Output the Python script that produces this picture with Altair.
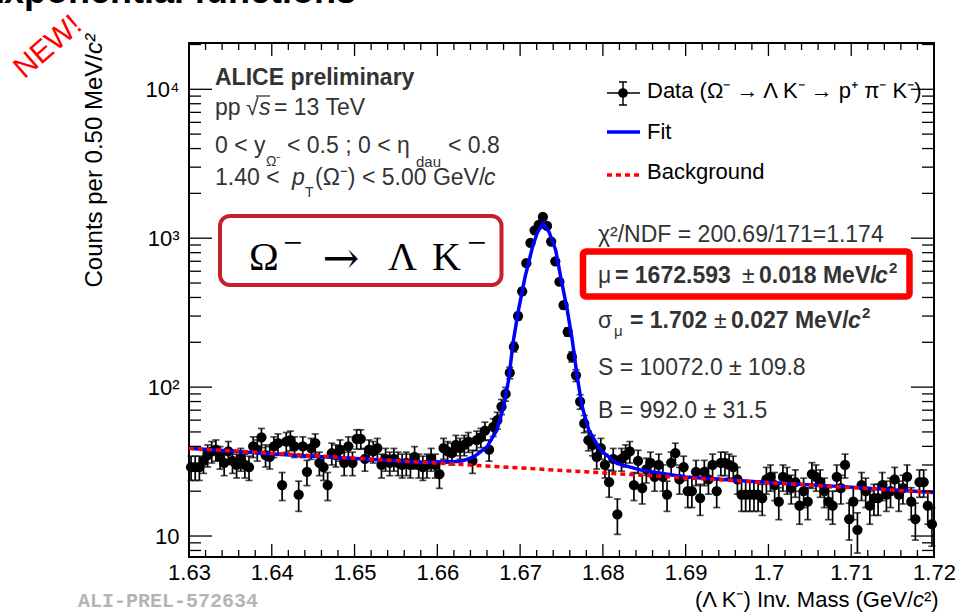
import altair as alt
import pandas as pd
import numpy as np

# ---------------- data ----------------
bin_low = 1.63
bin_width = 0.0005
counts = [
    29, 29, 29, 32, 35, 37, 38, 34, 31, 37,
    32, 30, 33, 30, 29, 40, 38, 46, 35, 34,
    40, 42, 22, 43, 44, 40, 19, 40, 27, 39,
    42, 31, 29, 22, 36, 35, 38, 31, 40, 31,
    45, 45, 33, 38, 37, 39, 30, 33, 31, 33,
    31, 30, 31, 30, 34, 30, 29, 30, 33, 30,
    26, 39, 37, 36, 41, 39, 41, 43, 32, 44,
    46, 51, 38, 54, 60, 74, 90, 125, 186, 300,
    440, 680, 930, 1130, 1230, 1390, 1210, 950, 700, 510,
    355, 235, 160, 120, 80, 57, 44, 41, 34, 39,
    30, 23, 33, 14, 33, 35, 37, 22, 32, 21,
    28, 31, 25, 30, 25, 19, 31, 36, 24, 29,
    20, 20, 27, 18, 27, 24, 30, 20, 31, 31,
    30, 29, 24, 19, 19, 19, 19, 19, 18, 24,
    25, 22, 17, 25, 24, 21, 23, 16, 20, 17,
    26, 25, 23, 20, 17, 16, 25, 21, 30, 13,
    17, 11, 22, 20, 16, 18, 18, 22, 19, 20,
    24, 19, 21, 25, 17, 13, 23, 23, 16, 12,
]

fit_mass = [1.630, 1.640, 1.650, 1.658, 1.6628, 1.6644, 1.6660, 1.6672, 1.6680,
            1.6686, 1.6692, 1.6698, 1.6706, 1.6715, 1.6721, 1.6728, 1.6735,
            1.6743, 1.6749, 1.6757, 1.6763, 1.6769, 1.6775, 1.6783, 1.6797,
            1.6817, 1.6846, 1.690, 1.700, 1.710, 1.720]
fit_counts = [38.8, 35.6, 33.1, 31.3, 31.6, 34.0, 39.7, 51.4, 73.8,
              111, 207, 329, 550, 874, 1102, 1260, 1102,
              830, 550, 329, 207, 117, 73.8, 51.4, 37.8,
              30.7, 27.7, 24.9, 22.9, 21.3, 19.6]

bkg_mass = [1.630, 1.720]
bkg_counts = [38.8, 19.6]

x_major = [1.63, 1.64, 1.65, 1.66, 1.67, 1.68, 1.69, 1.70, 1.71, 1.72]
x_minor = [round(1.63 + 0.002 * k, 3) for k in range(46) if k % 5 != 0]
y_major = [10, 100, 1000, 10000]
y_minor = [8, 9] + [m * d for d in (10, 100, 1000) for m in range(2, 10)] + [20000]

# ---------------- layout ----------------
L, T0 = 189, 43
W, H = 745, 514
FONT = "Liberation Sans"

mass = [bin_low + bin_width * (i + 0.5) for i in range(len(counts))]
cnt = np.array(counts, dtype=float)
err = np.sqrt(cnt)
df = pd.DataFrame({"mass": mass, "counts": cnt, "lo": cnt - err, "hi": cnt + err})
fit_df = pd.DataFrame({"mass": fit_mass, "counts": fit_counts})
bkg_df = pd.DataFrame({"mass": bkg_mass, "counts": bkg_counts})

xs = alt.Scale(domain=[1.63, 1.72], nice=False, zero=False)
ys = alt.Scale(type="log", domain=[7.23, 20460], nice=False)

x_axis = alt.Axis(values=x_major, format=".3~g", title=None, ticks=False, domain=False,
                  grid=False, labelFontSize=22, labelFont=FONT, labelColor="black",
                  labelPadding=5, labelFlush=False)
y_axis = alt.Axis(values=y_major, title=None, ticks=False, domain=False, grid=False,
                  labelExpr="datum.value == 10 ? '10' : datum.value == 100 ? '10²' : datum.value == 1000 ? '10³' : '10⁴'",
                  labelFontSize=22, labelFont=FONT, labelColor="black", labelPadding=10)

def X(f="mass"):
    return alt.X(f + ":Q", scale=xs, axis=x_axis)

def Y(f="counts"):
    return alt.Y(f + ":Q", scale=ys, axis=y_axis)

layers = []

# error bars, caps, points
layers.append(alt.Chart(df).mark_rule(color="black", strokeWidth=1.7).encode(x=X(), y=Y("lo"), y2="hi:Q"))
layers.append(alt.Chart(df).mark_tick(color="black", orient="horizontal", size=7, thickness=1.7).encode(x=X(), y=Y("lo")))
layers.append(alt.Chart(df).mark_tick(color="black", orient="horizontal", size=7, thickness=1.7).encode(x=X(), y=Y("hi")))
layers.append(alt.Chart(df).mark_circle(color="black", size=105, opacity=1).encode(x=X(), y=Y()))

# fit and background
layers.append(alt.Chart(fit_df).mark_line(color="#0000ff", strokeWidth=3.5).encode(x=X(), y=Y()))
layers.append(alt.Chart(bkg_df).mark_line(color="#ff0000", strokeWidth=3.5, strokeDash=[5, 4]).encode(x=X(), y=Y()))

# frame ticks (inward)
xmaj = pd.DataFrame({"mass": x_major})
xmin = pd.DataFrame({"mass": x_minor})
ymaj = pd.DataFrame({"counts": y_major})
ymin = pd.DataFrame({"counts": y_minor})
tk = dict(color="black", strokeWidth=1.3)
layers.append(alt.Chart(xmaj).mark_rule(**tk).encode(x=X(), y=alt.value(H), y2=alt.value(H - 13)))
layers.append(alt.Chart(xmaj).mark_rule(**tk).encode(x=X(), y=alt.value(0), y2=alt.value(13)))
layers.append(alt.Chart(xmin).mark_rule(**tk).encode(x=X(), y=alt.value(H), y2=alt.value(H - 7)))
layers.append(alt.Chart(xmin).mark_rule(**tk).encode(x=X(), y=alt.value(0), y2=alt.value(7)))
layers.append(alt.Chart(ymaj).mark_rule(**tk).encode(y=Y(), x=alt.value(0), x2=alt.value(23)))
layers.append(alt.Chart(ymaj).mark_rule(**tk).encode(y=Y(), x=alt.value(W), x2=alt.value(W - 23)))
layers.append(alt.Chart(ymin).mark_rule(**tk).encode(y=Y(), x=alt.value(0), x2=alt.value(12)))
layers.append(alt.Chart(ymin).mark_rule(**tk).encode(y=Y(), x=alt.value(W), x2=alt.value(W - 12)))

# ---------------- annotations ----------------
one = pd.DataFrame({"k": [0]})

def txt(s, x, y, size=23, weight="normal", style="normal", color="black",
        align="left", baseline="alphabetic", font=FONT, angle=0):
    kw = dict(text=s, fontSize=size, fontWeight=weight, fontStyle=style, color=color,
              align=align, baseline=baseline, font=font)
    if angle:
        kw["angle"] = angle
    return alt.Chart(one).mark_text(**kw).encode(x=alt.value(x - L), y=alt.value(y - T0))

def hline(x1, x2, y, color="black", width=1.5, dash=None):
    kw = dict(color=color, strokeWidth=width)
    if dash:
        kw["strokeDash"] = dash
    return alt.Chart(one).mark_rule(**kw).encode(x=alt.value(x1 - L), x2=alt.value(x2 - L), y=alt.value(y - T0))

def vline(x, y1, y2, color="black", width=1.5):
    return alt.Chart(one).mark_rule(color=color, strokeWidth=width).encode(
        x=alt.value(x - L), y=alt.value(y1 - T0), y2=alt.value(y2 - T0))

def box(x1, y1, x2, y2, color, width, radius):
    return alt.Chart(one).mark_rect(fillOpacity=0, stroke=color, strokeWidth=width,
                                    cornerRadius=radius).encode(
        x=alt.value(x1 - L), x2=alt.value(x2 - L), y=alt.value(y1 - T0), y2=alt.value(y2 - T0))

GREY = "#333333"
ann = []
# slide title (cut off) and NEW!
ann.append(txt("Exponential functions", 356, 3, size=36, weight="bold", align="right"))
ann.append(txt("NEW!", 48, 47, size=30, color="#ff0000", align="center", baseline="middle", angle=319))

# axis titles
ann.append(txt("Counts per 0.50 MeV/", 95, 54, size=24, align="right", baseline="middle", angle=270))
ann.append(txt("c²", 95, 54, size=24, style="italic", align="left", baseline="middle", angle=270))
ann.append(txt("(Λ K⁻) Inv. Mass (GeV/", 913, 600, size=22, align="right", baseline="middle"))
ann.append(txt("c", 913, 600, size=22, style="italic", align="left", baseline="middle"))
ann.append(txt("²)", 924, 600, size=22, align="left", baseline="middle"))
ann.append(txt("ALI-PREL-572634", 78, 607, size=20, weight="bold", color="#b4b4b4",
               font="Liberation Mono"))

# ALICE block
ann.append(txt("ALICE preliminary", 215, 85, weight="bold", color=GREY))
ann.append(txt("pp", 215, 115, color=GREY))
ann.append(txt("√", 246, 115, color=GREY))
ann.append(txt("s", 259, 115, style="italic", color=GREY))
ann.append(hline(256, 270, 96, color=GREY, width=1.3))
ann.append(txt("= 13 TeV", 274, 115, color=GREY))
ann.append(txt("0 < y", 215, 153, color=GREY))
ann.append(txt("Ω⁻", 266, 166, size=14, color=GREY))
ann.append(txt("< 0.5 ; 0 < η", 287, 153, color=GREY))
ann.append(txt("dau", 416, 167, size=15, color=GREY))
ann.append(txt("< 0.8", 448, 153, color=GREY))
ann.append(txt("1.40 <", 215, 185, color=GREY))
ann.append(txt("p", 292, 185, style="italic", color=GREY))
ann.append(txt("T", 305, 197, size=14, color=GREY))
ann.append(txt("(Ω⁻) < 5.00 GeV/", 315, 185, color=GREY))
ann.append(txt("c", 484, 185, style="italic", color=GREY))

# decay box
ann.append(box(220, 216, 501.5, 285, "#c8202a", 4, 10))
SER = "Liberation Serif"
ann.append(txt("Ω", 249, 270, size=40, font=SER))
ann.append(txt("−", 283, 254, size=34, font=SER))
ann.append(txt("→", 341, 273, size=44, font="DejaVu Serif", align="center"))
ann.append(txt("Λ", 388, 270, size=40, font=SER))
ann.append(txt("K", 432, 270, size=40, font=SER))
ann.append(txt("−", 467, 254, size=34, font=SER))

# legend
ann.append(hline(607, 640, 93))
ann.append(vline(623, 82, 105))
ann.append(hline(619, 627, 82))
ann.append(hline(619, 627, 105))
ann.append(alt.Chart(one).mark_circle(color="black", size=95, opacity=1).encode(
    x=alt.value(623 - L), y=alt.value(93 - T0)))
ann.append(txt("Data (Ω⁻ → Λ K⁻ → p⁺ π⁻ K⁻)", 647, 98, size=22))
ann.append(hline(607, 640, 132, color="#0000ff", width=3.5))
ann.append(txt("Fit", 647, 139, size=22))
ann.append(hline(607, 640, 175, color="#ff0000", width=3.5, dash=[5, 4]))
ann.append(txt("Background", 647, 179, size=22))

# stats
ann.append(txt("χ²/NDF = 200.69/171=1.174", 598, 242, color=GREY))
ann.append(box(583, 251.5, 909.5, 296.5, "#ff0000", 6.5, 3))
ann.append(txt("μ", 598, 283, color=GREY))
ann.append(txt("= 1672.593", 615, 283, weight="bold", color=GREY))
ann.append(txt("±", 742, 283, color=GREY))
ann.append(txt("0.018 MeV/", 759, 283, weight="bold", color=GREY))
ann.append(txt("c", 875, 283, weight="bold", style="italic", color=GREY))
ann.append(txt("2", 889, 273, size=15, weight="bold", color=GREY))
ann.append(txt("σ", 598, 328, color=GREY))
ann.append(txt("μ", 614, 336, size=15, color=GREY))
ann.append(txt("= 1.702", 630, 328, weight="bold", color=GREY))
ann.append(txt("±", 714, 328, color=GREY))
ann.append(txt("0.027 MeV/", 731, 328, weight="bold", color=GREY))
ann.append(txt("c", 848, 328, weight="bold", style="italic", color=GREY))
ann.append(txt("2", 862, 318, size=15, weight="bold", color=GREY))
ann.append(txt("S = 10072.0 ± 109.8", 598, 375, color=GREY))
ann.append(txt("B = 992.0 ± 31.5", 598, 418, color=GREY))

chart = alt.layer(*layers, *ann).properties(
    width=W, height=H,
    padding={"left": L, "top": T0, "right": 956 - L - W, "bottom": 613 - T0 - H},
    autosize=alt.AutoSizeParams(type="none"),
    background="white",
).configure_view(stroke="black", strokeWidth=2)

chart.save("out.html", embed_options={"renderer": "svg", "actions": False})
